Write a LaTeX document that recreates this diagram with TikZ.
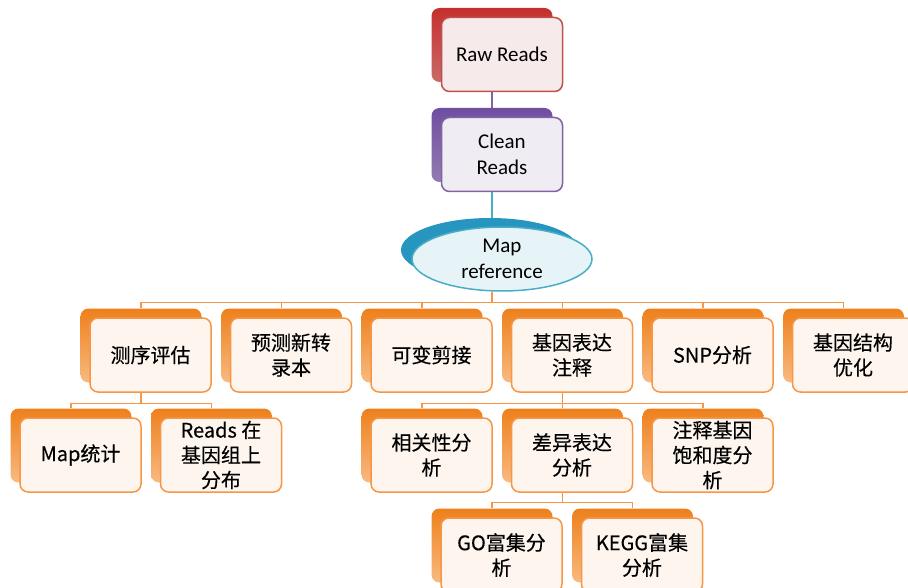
\documentclass[tikz,border=0pt]{standalone}
\usepackage{fontspec}
\setmainfont{Carlito}
\newfontfamily\cjk[FakeBold=0.4]{Noto Sans CJK SC}
\usetikzlibrary{shapes.geometric,backgrounds}
\definecolor{ored}{HTML}{F79646}
\definecolor{oredd}{RGB}{238,128,28}
\definecolor{oredl}{RGB}{248,186,128}
\definecolor{rred}{HTML}{C0504D}
\definecolor{rredd}{RGB}{196,48,46}
\definecolor{pur}{HTML}{8064A2}
\definecolor{purd}{RGB}{112,78,162}
\definecolor{teal}{HTML}{4BACC6}
\definecolor{teald}{RGB}{38,150,192}
\tikzset{
  boxbase/.style={rectangle, rounded corners=8pt, minimum width=121pt, minimum height=74pt, inner sep=0pt, align=center},
  obk/.style={boxbase, top color=oredd, bottom color=oredl, draw=none},
  ofr/.style={boxbase, draw=ored, line width=1.5pt, fill=ored!9, font=\cjk\fontsize{20}{25}\selectfont},
  rbk/.style={boxbase, top color=rredd, bottom color=rred!85, draw=none},
  rfr/.style={boxbase, draw=rred, line width=1.5pt, fill=rred!12, font=\fontsize{21}{26}\selectfont},
  pbk/.style={boxbase, top color=purd, bottom color=pur!85, draw=none},
  pfr/.style={boxbase, draw=pur, line width=1.5pt, fill=pur!12, font=\fontsize{21}{26}\selectfont},
  ebk/.style={ellipse, minimum width=178pt, minimum height=64pt, inner sep=0pt, fill=teald},
  efr/.style={ellipse, minimum width=180pt, minimum height=64pt, inner sep=0pt, draw=teal, line width=1.5pt, fill=teal!14, align=center, font=\fontsize{21}{26}\selectfont},
  oline/.style={draw=ored, line width=1.5pt},
  pline/.style={draw=pur, line width=1.5pt},
  tline/.style={draw=teal, line width=1.5pt},
}
\newcommand\obox[4]{%
  \node[obk] (#1b) at (#2-9.5,#3-9.5) {};
  \node[ofr] (#1) at (#2,#3) {#4};
}
\begin{document}
\begin{tikzpicture}[x=1pt,y=-1pt]
\useasboundingbox (0,0) rectangle (908,588);
\clip (0,0) rectangle (908,588);
% top chain
\node[rbk] (rawb) at (492,45) {};
\node[rfr] (raw) at (502,54.5) {Raw Reads};
\node[pbk] (cleanb) at (492,145) {};
\node[pfr] (clean) at (502,154.5) {Clean\\Reads};
\node[ebk] (mapb) at (490,250) {};
\node[efr] (map) at (502,259) {Map\\reference};
% row 1
\obox{sa}{150.5}{355}{测序评估}
\obox{sb}{291}{355}{预测新转\\录本}
\obox{sc}{431.5}{355}{可变剪接}
\obox{sd}{572}{355}{基因表达\\注释}
\obox{se}{712.5}{355}{SNP分析}
\obox{sf}{853}{355}{基因结构\\优化}
% row 2
\obox{ta}{80.5}{455}{Map统计}
\obox{tb}{221}{455}{Reads 在\\基因组上\\分布}
\obox{tc}{431.5}{455}{相关性分\\析}
\obox{td}{572}{455}{差异表达\\分析}
\obox{te}{712.5}{455}{注释基因\\饱和度分\\析}
% row 3
\obox{ua}{501.5}{555}{GO富集分\\析}
\obox{ub}{642}{555}{KEGG富集\\分析}
\begin{pgfonlayer}{background}
\draw[pline] (rawb) -- (cleanb);
\draw[tline] (cleanb.south) -- (cleanb.south |- mapb.center);
\foreach \c in {sab,sbb,scb,sdb,seb,sfb}
  \draw[oline] (map.south -| cleanb) |- ([yshift=6pt]\c.north) -- (\c.north);
\foreach \c in {tab,tbb}
  \draw[oline] (sab.center) |- ([yshift=5pt]\c.north) -- (\c.north);
\foreach \c in {tcb,tdb,teb}
  \draw[oline] (sdb.center) |- ([yshift=5pt]\c.north) -- (\c.north);
\foreach \c in {uab,ubb}
  \draw[oline] (tdb.center) |- ([yshift=6pt]\c.north) -- (\c.north);
\end{pgfonlayer}
\end{tikzpicture}
\end{document}
